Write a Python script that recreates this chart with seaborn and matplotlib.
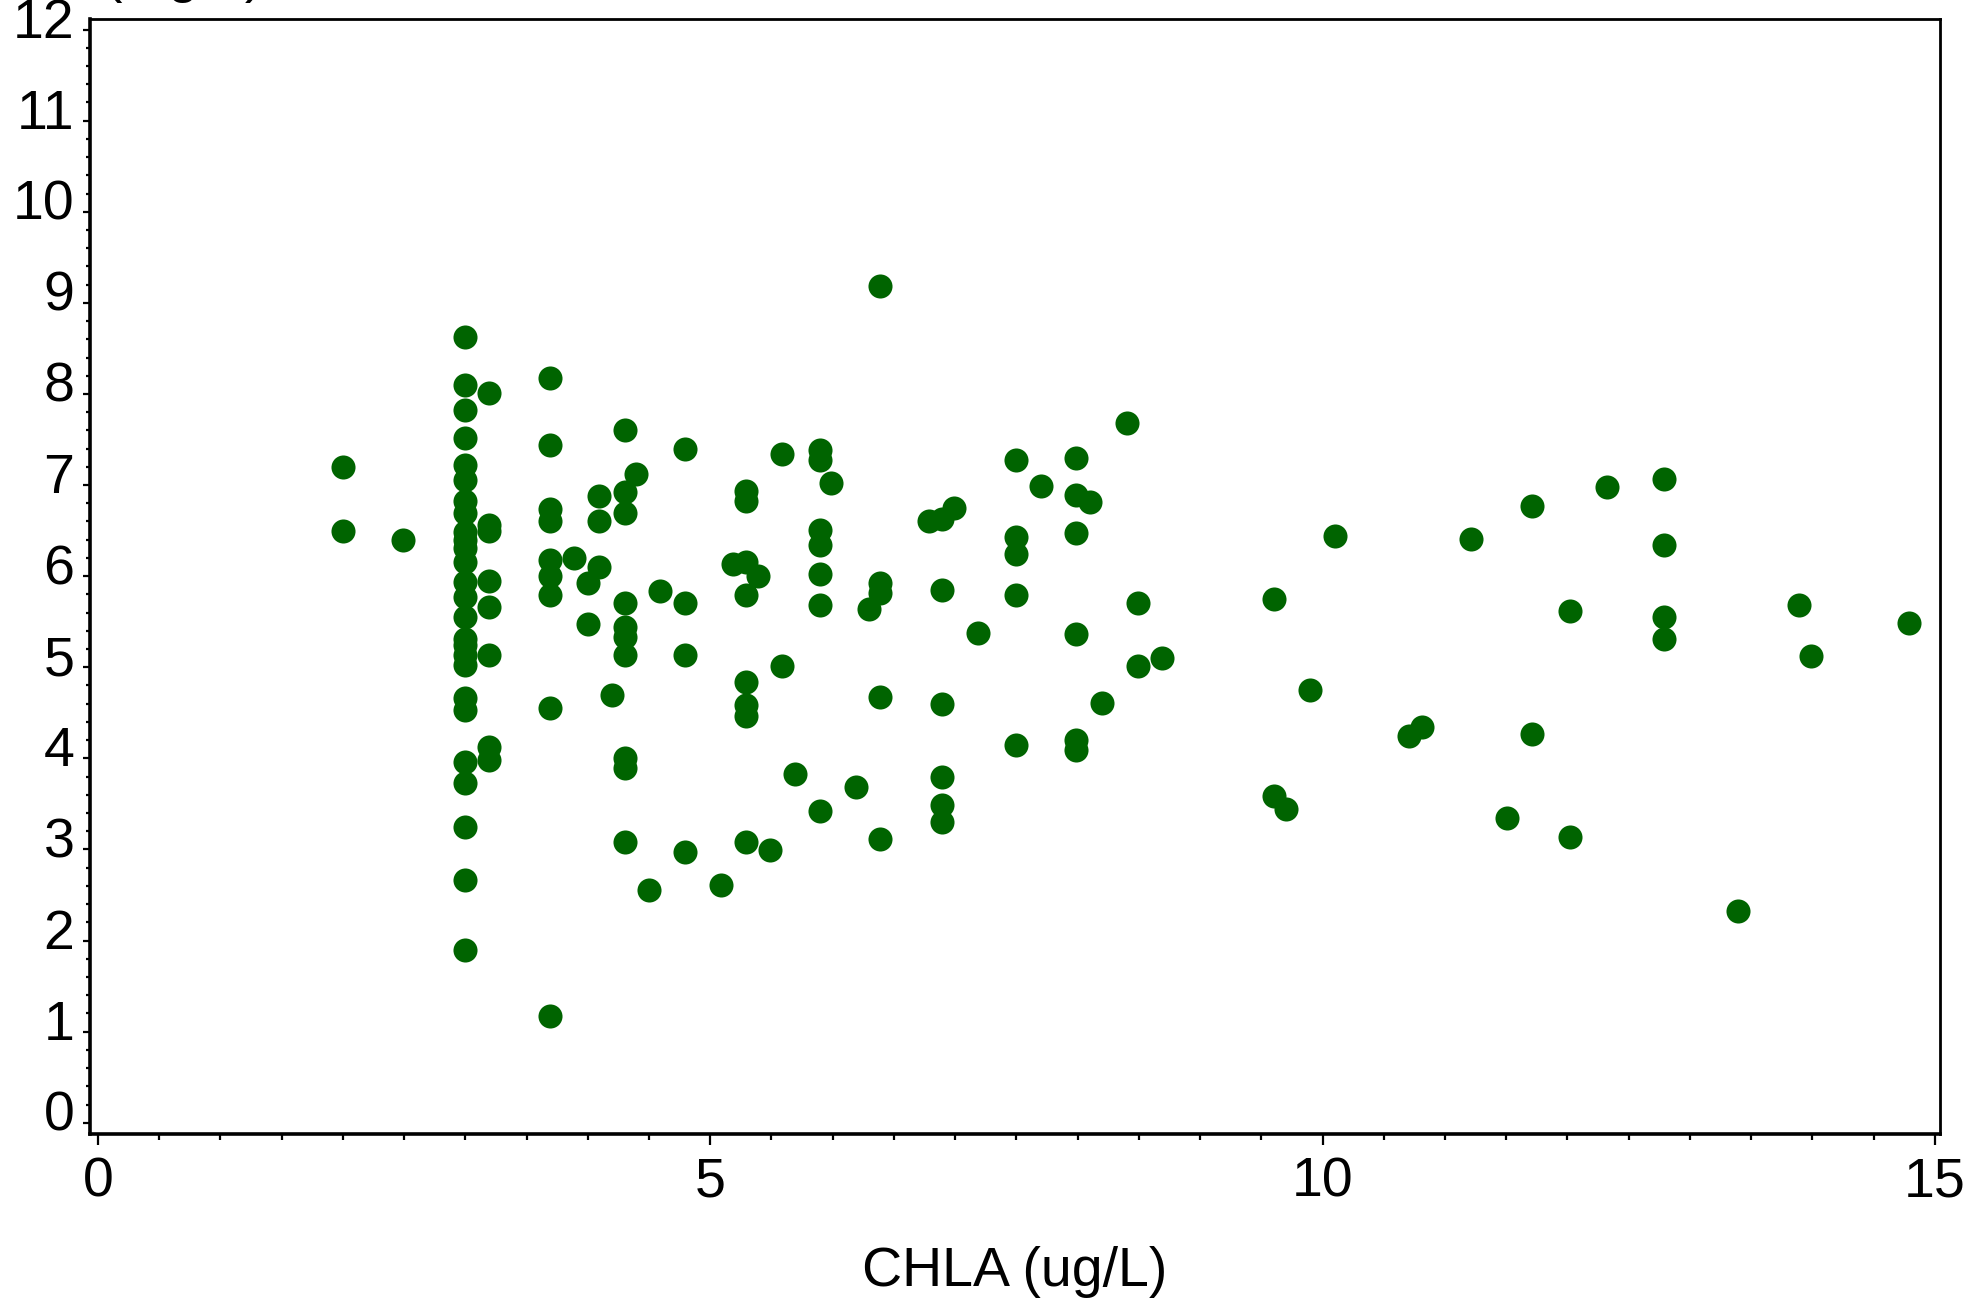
import matplotlib
matplotlib.use("Agg")
import matplotlib.pyplot as plt
import matplotlib.transforms as mtransforms
from matplotlib.ticker import MultipleLocator
import seaborn as sns
import pandas as pd

# values (CHLA in ug/L, concentration in mg/L)
chla = [
    2.00, 2.00, 2.49,
    3.00, 3.00, 3.00, 3.00, 3.00, 3.00, 3.00, 3.00, 3.00, 3.00, 3.00, 3.00, 3.00,
    3.00, 3.00, 3.00, 3.00, 3.00, 3.00, 3.00, 3.00, 3.00, 3.00, 3.00, 3.00, 3.00,
    3.19, 3.19, 3.19, 3.19, 3.19, 3.19, 3.19, 3.19,
    3.69, 3.69, 3.69, 3.69, 3.69, 3.69, 3.69, 3.69, 3.69,
    3.89, 4.00, 4.00, 4.09, 4.09, 4.09, 4.20,
    4.30, 4.30, 4.30, 4.30, 4.30, 4.30, 4.30, 4.30, 4.30, 4.30,
    4.39, 4.50, 4.59, 4.79, 4.79, 4.79, 4.79, 5.09, 5.19,
    5.29, 5.29, 5.29, 5.29, 5.29, 5.29, 5.29, 5.29,
    5.39, 5.49, 5.59, 5.59, 5.69,
    5.90, 5.90, 5.90, 5.90, 5.90, 5.90, 5.90,
    5.99, 6.19, 6.30, 6.39, 6.39, 6.39, 6.39, 6.39,
    6.79, 6.89, 6.99, 6.89, 6.89, 6.89, 6.89, 6.89, 7.19,
    7.50, 7.50, 7.50, 7.50, 7.50, 7.70,
    7.99, 7.99, 7.99, 7.99, 7.99, 7.99, 8.10, 8.20, 8.40, 8.49, 8.49, 8.69,
    9.60, 9.60, 9.70, 9.90, 10.10, 10.71, 10.81, 11.21, 11.51, 11.71, 11.71,
    12.02, 12.02, 12.32, 12.79, 12.79, 12.79, 12.79, 13.39, 13.89, 13.99, 14.79,
]
conc = [
    7.20, 6.50, 6.40,
    8.62, 8.10, 7.82, 7.52, 7.22, 7.06, 6.83, 6.69, 6.48, 6.40, 6.31, 6.16, 5.94,
    5.77, 5.55, 5.31, 5.24, 5.14, 5.03, 4.66, 4.53, 3.96, 3.73, 3.25, 2.67, 1.90,
    8.01, 6.56, 6.50, 5.95, 5.66, 5.13, 4.13, 3.98,
    8.17, 7.44, 6.74, 6.60, 6.18, 6.00, 5.79, 4.55, 1.17,
    6.20, 5.92, 5.48, 6.88, 6.60, 6.10, 4.70,
    7.60, 6.92, 6.69, 5.70, 5.44, 5.33, 5.14, 4.00, 3.89, 3.08,
    7.12, 2.56, 5.84, 7.40, 5.71, 5.14, 2.97, 2.61, 6.13,
    6.94, 6.82, 6.16, 5.79, 4.84, 4.59, 4.46, 3.08,
    6.00, 2.99, 7.34, 5.01, 3.83,
    7.38, 7.27, 6.51, 6.34, 6.02, 5.68, 3.42,
    7.02, 3.69, 5.64, 9.18, 5.93, 5.82, 4.67, 3.12,
    6.61, 6.63, 6.75, 5.85, 4.60, 3.80, 3.49, 3.30, 5.38,
    7.28, 6.43, 6.24, 5.79, 4.15, 6.99,
    7.30, 6.89, 6.47, 5.37, 4.20, 4.09, 6.81, 4.61, 7.68, 5.71, 5.01, 5.10,
    5.75, 3.59, 3.44, 4.75, 6.44, 4.24, 4.34, 6.41, 3.35, 6.77, 4.27,
    5.62, 3.14, 6.98, 7.07, 6.34, 5.55, 5.31, 2.32, 5.68, 5.12, 5.49,
]

df = pd.DataFrame({"chla": chla, "conc": conc})

sns.set_theme(style="white")
plt.rcParams['font.family'] = ['Liberation Sans', 'DejaVu Sans']

fig = plt.figure(figsize=(19.65, 12.98), dpi=100)
ax = fig.add_axes([0.0458, 0.1263, 0.9415, 0.8588])

sns.scatterplot(data=df, x="chla", y="conc", ax=ax, color="#006400",
                s=300, linewidth=0, legend=False)

ax.set_xlim(-0.065, 15.043)
ax.set_ylim(-0.124, 12.112)
ax.xaxis.set_major_locator(MultipleLocator(5))
ax.xaxis.set_minor_locator(MultipleLocator(0.5))
ax.yaxis.set_major_locator(MultipleLocator(1))
ax.yaxis.set_minor_locator(MultipleLocator(0.2))

ax.tick_params(axis="x", which="major", bottom=True, direction="out", length=8,
               width=1.6, labelsize=40, pad=8, colors="black")
ax.tick_params(axis="x", which="minor", bottom=True, direction="out", length=4,
               width=1.6, colors="black")
ax.tick_params(axis="y", which="major", left=True, direction="out", length=5.3,
               width=1.6, labelsize=40, pad=6, colors="black")
ax.tick_params(axis="y", which="minor", left=True, direction="out", length=3,
               width=1.6, colors="black")

for side in ["left", "bottom"]:
    ax.spines[side].set_linewidth(2.6)
    ax.spines[side].set_color("black")
for side in ["top", "right"]:
    ax.spines[side].set_linewidth(2.0)
    ax.spines[side].set_color("black")

ax.set_xlabel("CHLA (ug/L)", fontsize=40, color="black")
ax.xaxis.set_label_coords(0.5, -0.100)
ax.set_ylabel("")

# y-axis title sits above the frame and is cut off by the figure edge
fig.text(104 / 1965, 1.0069, "(mg/L)", fontsize=40, va="baseline", ha="left",
         color="black")

# tick labels on the y axis sit a little above their ticks
fig.canvas.draw()
shift = mtransforms.ScaledTranslation(0, 0.12, fig.dpi_scale_trans)
for lab in ax.get_yticklabels():
    lab.set_transform(lab.get_transform() + shift)

fig.savefig("out.png", dpi=100, facecolor="white")
